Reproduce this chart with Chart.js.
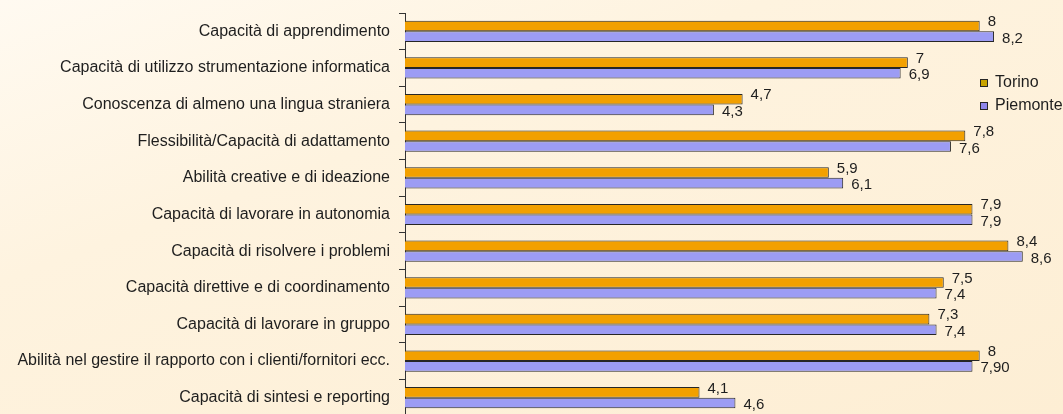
<!DOCTYPE html>
<html lang="it">
<head>
<meta charset="utf-8">
<title>Competenze richieste: Torino e Piemonte</title>
<script src="https://cdn.jsdelivr.net/npm/chart.js@4/dist/chart.umd.min.js"></script>
<style>
  html, body { margin: 0; padding: 0; overflow: hidden; }
  body {
    width: 1063px; height: 414px;
    background: linear-gradient(160deg, #fffaf1 0%, #fef3df 35%, #fdeed4 100%);
  }
  canvas { display: block; }
</style>
</head>
<body>
<canvas id="chart" width="1063" height="420"></canvas>
<script>
// Competenze valutate (punteggio medio)
const categories = [
  'Capacità di apprendimento',
  'Capacità di utilizzo strumentazione informatica',
  'Conoscenza di almeno una lingua straniera',
  'Flessibilità/Capacità di adattamento',
  'Abilità creative e di ideazione',
  'Capacità di lavorare in autonomia',
  'Capacità di risolvere i problemi',
  'Capacità direttive e di coordinamento',
  'Capacità di lavorare in gruppo',
  'Abilità nel gestire il rapporto con i clienti/fornitori ecc.',
  'Capacità di sintesi e reporting'
];
const seriesNames = ['Torino', 'Piemonte'];
const torino   = [8, 7, 4.7, 7.8, 5.9, 7.9, 8.4, 7.5, 7.3, 8, 4.1];
const piemonte = [8.2, 6.9, 4.3, 7.6, 6.1, 7.9, 8.6, 7.4, 7.4, 7.90, 4.6];
// printed value labels
const torinoText   = ['8', '7', '4,7', '7,8', '5,9', '7,9', '8,4', '7,5', '7,3', '8', '4,1'];
const piemonteText = ['8,2', '6,9', '4,3', '7,6', '6,1', '7,9', '8,6', '7,4', '7,4', '7,90', '4,6'];

const FONT = 'Liberation Sans, Arial, sans-serif';
const INK = '#1e1e1e';
const EDGE = '#262626';
const ORANGE = '#f2a000';
const LAVENDER = '#9c9cf4';

// value labels beside each bar end
const valueLabels = {
  id: 'valueLabels',
  afterDatasetsDraw(chart) {
    const ctx = chart.ctx;
    const texts = [torinoText, piemonteText];
    const dy = [-4, 2];
    ctx.save();
    ctx.font = '15px ' + FONT;
    ctx.fillStyle = INK;
    ctx.textAlign = 'left';
    ctx.textBaseline = 'middle';
    chart.data.datasets.forEach((ds, di) => {
      chart.getDatasetMeta(di).data.forEach((bar, i) => {
        ctx.fillText(texts[di][i], bar.x + 8, bar.y + dy[di]);
      });
    });
    ctx.restore();
  }
};

// small square-marker legend on the right
const sideLegend = {
  id: 'sideLegend',
  afterDraw(chart) {
    const ctx = chart.ctx;
    const rows = [83, 106];
    ctx.save();
    ctx.font = '16px ' + FONT;
    ctx.textAlign = 'left';
    ctx.textBaseline = 'middle';
    chart.data.datasets.forEach((ds, di) => {
      const y = rows[di];
      ctx.fillStyle = di === 0 ? '#c9a400' : '#8f86ea';
      ctx.fillRect(980.5, y - 3.5, 7, 7);
      ctx.strokeStyle = EDGE;
      ctx.lineWidth = 1;
      ctx.strokeRect(980.5, y - 3.5, 7, 7);
      ctx.fillStyle = INK;
      ctx.fillText(ds.label, 995, y);
    });
    ctx.restore();
  }
};

new Chart(document.getElementById('chart'), {
  type: 'bar',
  data: {
    labels: categories,
    datasets: [
      {
        label: seriesNames[0],
        data: torino,
        backgroundColor: ORANGE,
        borderColor: EDGE,
        borderWidth: 1
      },
      {
        label: seriesNames[1],
        data: piemonte,
        backgroundColor: LAVENDER,
        borderColor: EDGE,
        borderWidth: 1
      }
    ]
  },
  options: {
    indexAxis: 'y',
    responsive: false,
    animation: false,
    layout: { padding: { top: 13, bottom: 4, left: 0, right: 0 } },
    datasets: {
      bar: { categoryPercentage: 0.58, barPercentage: 1 }
    },
    plugins: {
      legend: { display: false },
      tooltip: { enabled: false }
    },
    scales: {
      x: {
        display: false,
        min: 0,
        max: 9.16
      },
      y: {
        position: 'left',
        afterFit(scale) {
          scale.width = 405;
          scale.paddingTop = 0;
          scale.paddingBottom = 0;
        },
        grid: {
          display: true,
          drawOnChartArea: false,
          drawTicks: true,
          tickLength: 6,
          color: '#333',
          offset: true
        },
        border: { display: true, color: '#333', width: 1 },
        ticks: {
          color: INK,
          padding: 9,
          font: { family: FONT, size: 16 }
        }
      }
    }
  },
  plugins: [valueLabels, sideLegend]
});
</script>
</body>
</html>
